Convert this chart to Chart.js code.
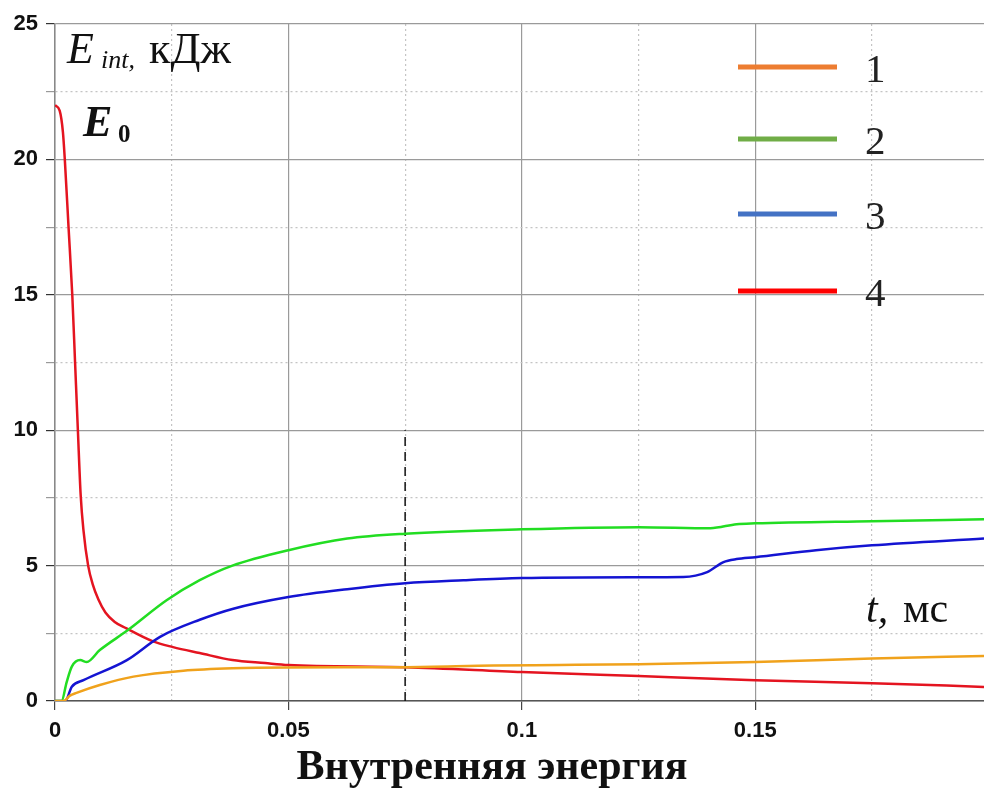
<!DOCTYPE html>
<html>
<head>
<meta charset="utf-8">
<script src="https://cdn.jsdelivr.net/npm/chart.js@4.4.1/dist/chart.umd.min.js"></script>
<style>
  html, body { margin: 0; padding: 0; background: #fff; }
  #wrap { width: 984px; height: 789px; position: relative; }
</style>
</head>
<body>
<div id="wrap"><canvas id="energyChart" width="984" height="789"></canvas></div>
<script>
// Время, мс и энергия, кДж
const t1 = [0, 0.0018, 0.0032, 0.0046, 0.0096, 0.0168, 0.0275, 0.038, 0.05, 0.075, 0.094, 0.108, 0.125, 0.15, 0.175, 0.199];
const e1 = [0, 0, 0.20, 0.30, 0.59, 0.90, 1.12, 1.21, 1.24, 1.25, 1.31, 1.33, 1.36, 1.44, 1.57, 1.66];

const t2 = [0, 0.0014, 0.0025, 0.0036, 0.0054, 0.0068, 0.0096, 0.0154, 0.0239, 0.031, 0.038, 0.05, 0.0626, 0.075, 0.1, 0.125, 0.1404, 0.146, 0.15, 0.175, 0.199];
const e2 = [0, 0, 0.7, 1.27, 1.51, 1.44, 1.88, 2.59, 3.72, 4.46, 5.0, 5.57, 6.0, 6.18, 6.34, 6.42, 6.38, 6.53, 6.56, 6.64, 6.71];

const t3 = [0, 0.0022, 0.0036, 0.0061, 0.0154, 0.0225, 0.031, 0.038, 0.05, 0.0626, 0.075, 0.0875, 0.1, 0.125, 0.1346, 0.1397, 0.1432, 0.146, 0.15, 0.163, 0.175, 0.199];
const e3 = [0, 0, 0.53, 0.77, 1.51, 2.37, 3.0, 3.4, 3.84, 4.13, 4.35, 4.46, 4.54, 4.57, 4.58, 4.76, 5.13, 5.24, 5.31, 5.57, 5.75, 6.0];

const t4 = [0, 0.001, 0.0017, 0.0021, 0.0029, 0.0037, 0.0043, 0.0049, 0.0055, 0.0061, 0.0071, 0.0081, 0.0093, 0.0108, 0.0128, 0.0152, 0.021, 0.0253, 0.031, 0.038, 0.045, 0.05, 0.075, 0.1, 0.125, 0.15, 0.175, 0.199];
const e4 = [22, 21.8, 21.0, 20, 17.5, 15, 12.5, 10, 7.6, 6.3, 5.0, 4.3, 3.75, 3.27, 2.92, 2.69, 2.2, 1.99, 1.77, 1.51, 1.40, 1.33, 1.25, 1.07, 0.92, 0.77, 0.66, 0.52];

// вертикальная штриховая отметка
const markT = [0.075, 0.075];
const markE = [0, 10];

const seriesLabels = ['1', '2', '3', '4'];
const lineColors = ['#f0a21c', '#22dd22', '#1414d2', '#e41420'];
const legendColors = ['#ed7d31', '#70ad47', '#4472c4', '#ff0000'];

const xTicksStep = 0.025;
const yTicksStep = 2.5;

const pts = (xs, ys) => xs.map((x, i) => ({ x: x, y: ys[i] }));
const isMajor = (v, step) => Math.abs(v / step - Math.round(v / step)) < 1e-6;

const curve = (xs, ys, i) => ({
  label: seriesLabels[i],
  data: pts(xs, ys),
  borderColor: lineColors[i],
  borderWidth: 2.5,
  pointRadius: 0,
  cubicInterpolationMode: 'monotone',
  fill: false
});

// подписи внутри графика и легенда
const annotations = {
  id: 'annotations',
  afterDraw(chart) {
    const ctx = chart.ctx;
    ctx.save();
    ctx.fillStyle = '#111';
    ctx.textBaseline = 'alphabetic';
    ctx.textAlign = 'left';

    // E_int, кДж
    ctx.font = 'italic 44px "Liberation Serif"';
    ctx.fillText('E', 67, 63);
    ctx.font = 'italic 26px "Liberation Serif"';
    ctx.fillText('int,', 101, 68);
    ctx.font = '44px "Liberation Serif"';
    ctx.fillText('кДж', 149, 63);

    // E_0
    ctx.font = 'italic bold 44px "Liberation Serif"';
    ctx.fillText('E', 83, 136);
    ctx.font = 'bold 25px "Liberation Serif"';
    ctx.fillText('0', 118, 142);

    // t, мс
    ctx.font = 'italic 42px "Liberation Serif"';
    ctx.fillText('t,', 866, 622);
    ctx.font = '42px "Liberation Serif"';
    ctx.fillText('мс', 903, 622);

    // легенда
    const rowsY = [67, 139, 214, 291];
    ctx.lineWidth = 5;
    seriesLabels.forEach((lab, i) => {
      ctx.strokeStyle = legendColors[i];
      ctx.beginPath();
      ctx.moveTo(738, rowsY[i]);
      ctx.lineTo(837, rowsY[i]);
      ctx.stroke();
      ctx.font = '41px "Liberation Serif"';
      ctx.fillStyle = '#222';
      ctx.fillText(lab, 865, rowsY[i] + 15);
    });
    ctx.restore();
  }
};

new Chart(document.getElementById('energyChart'), {
  type: 'line',
  data: {
    datasets: [
      curve(t1, e1, 0),
      curve(t2, e2, 1),
      curve(t3, e3, 2),
      curve(t4, e4, 3),
      {
        label: 'mark',
        data: pts(markT, markE),
        borderColor: '#111',
        borderWidth: 1.5,
        borderDash: [9, 6],
        pointRadius: 0
      }
    ]
  },
  plugins: [annotations],
  options: {
    responsive: false,
    animation: false,
    devicePixelRatio: 1,
    layout: { padding: { top: 24, right: 0, left: 0, bottom: 0 } },
    plugins: {
      legend: { display: false },
      tooltip: { enabled: false },
      title: {
        display: true,
        position: 'bottom',
        text: 'Внутренняя энергия',
        color: '#111',
        font: { family: 'Liberation Serif', size: 42, weight: 'bold', lineHeight: 1.0 },
        padding: { top: 10, bottom: 0 }
      }
    },
    scales: {
      x: {
        type: 'linear',
        min: 0,
        max: 0.199,
        afterFit: s => { s.height = 36; },
        ticks: {
          stepSize: xTicksStep,
          includeBounds: false,
          autoSkip: false,
          maxRotation: 0,
          padding: 8,
          color: '#111',
          font: { family: 'Liberation Sans', size: 22, weight: 'bold' },
          callback: v => isMajor(v, 0.05) ? String(+v.toFixed(3)) : ''
        },
        grid: {
          color: c => c.tick && isMajor(c.tick.value, 0.05) ? '#9a9a9a' : '#c4c4c4',
          lineWidth: 1.2,
          tickLength: 9,
          tickColor: c => c.tick && isMajor(c.tick.value, 0.05) ? '#444' : 'rgba(0,0,0,0)'
        },
        border: {
          color: '#555',
          width: 1.5,
          dash: c => c.tick && !isMajor(c.tick.value, 0.05) ? [2, 3] : []
        }
      },
      y: {
        min: 0,
        max: 25,
        afterFit: s => { s.width = 55; },
        ticks: {
          stepSize: yTicksStep,
          autoSkip: false,
          padding: 8,
          color: '#111',
          font: { family: 'Liberation Sans', size: 22, weight: 'bold' },
          callback: v => isMajor(v, 5) ? String(v) : ''
        },
        grid: {
          color: c => c.tick && isMajor(c.tick.value, 5) ? '#9a9a9a' : '#c4c4c4',
          lineWidth: 1.2,
          tickLength: 9,
          tickColor: c => c.tick && isMajor(c.tick.value, 5) ? '#333' : '#999'
        },
        border: {
          color: '#888',
          width: 1.5,
          dash: c => c.tick && !isMajor(c.tick.value, 5) ? [2, 3] : []
        }
      }
    }
  }
});
</script>
</body>
</html>
